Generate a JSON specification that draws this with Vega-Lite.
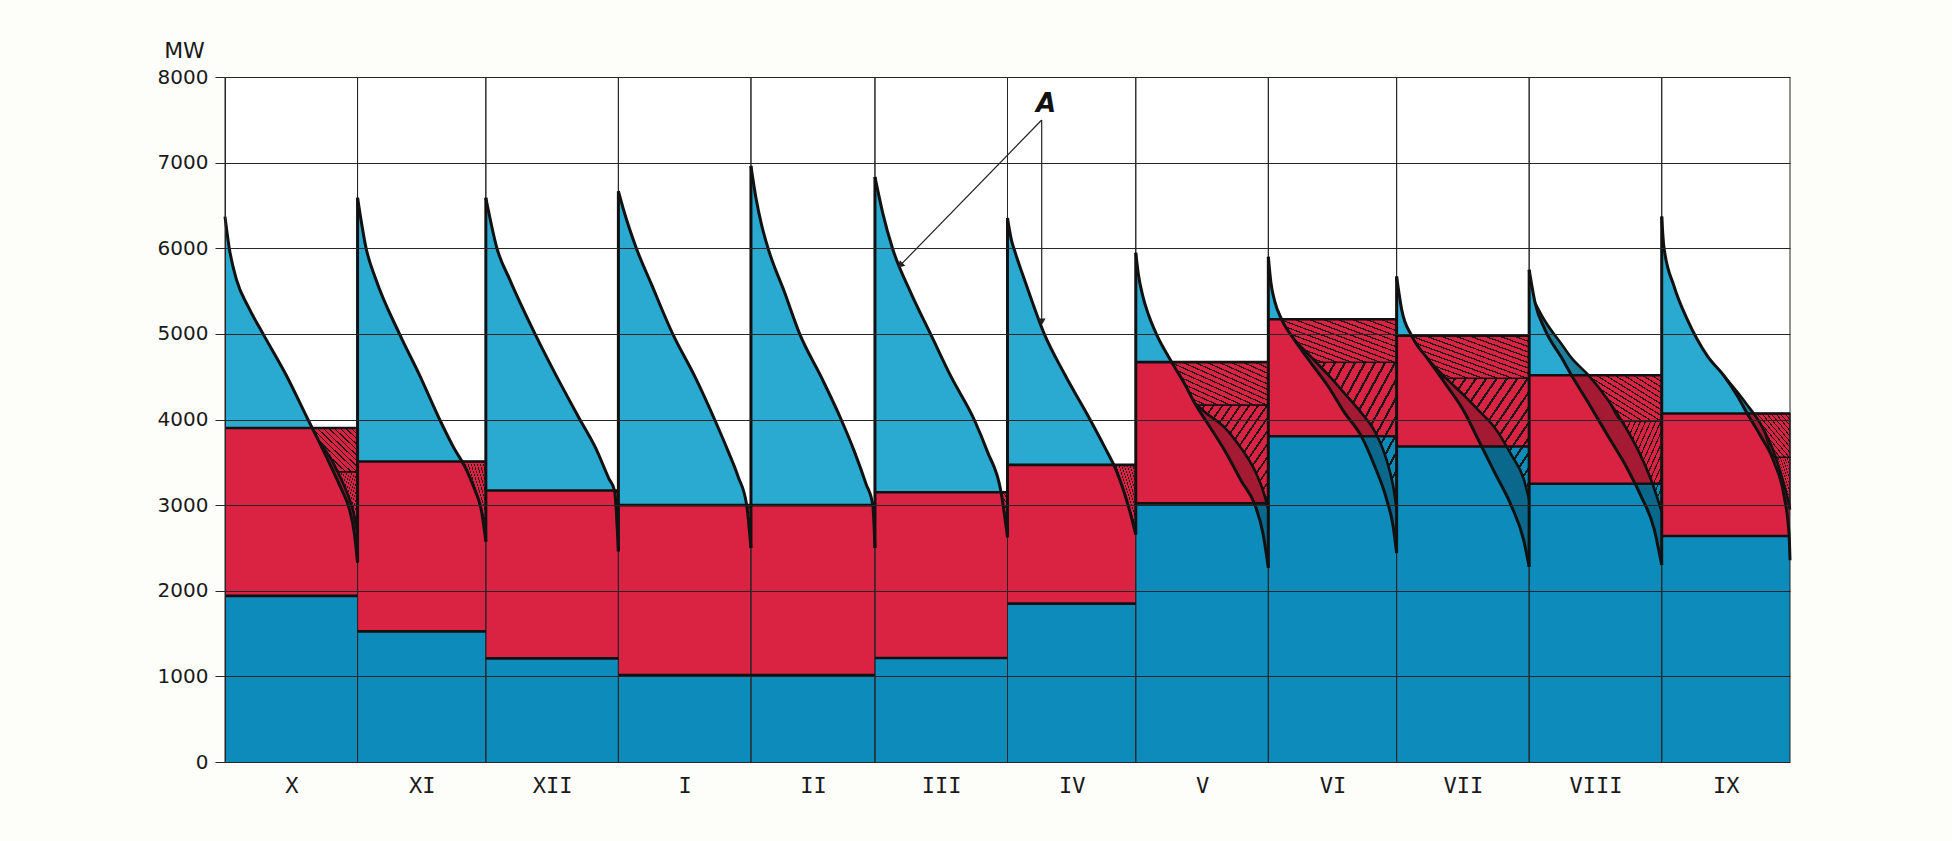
{
  "$schema": "https://vega.github.io/schema/vega-lite/v6.json",
  "background": "#fdfdf9",
  "autosize": {"type": "none"},
  "width": 1565,
  "height": 685,
  "padding": {"left": 225, "top": 77, "right": 162, "bottom": 79},
  "config": {
    "view": {"stroke": null, "fill": "#ffffff"},
    "font": "DejaVu Sans"
  },
  "datasets": {
    "months": [
      {"m": "X", "d0": 0, "d1": 31, "base": 1940, "top": 3900, "peak": 6370, "prevEnd": 6370},
      {"m": "XI", "d0": 31, "d1": 61, "base": 1525, "top": 3510, "peak": 6590, "prevEnd": 2330},
      {"m": "XII", "d0": 61, "d1": 92, "base": 1210, "top": 3170, "peak": 6590, "prevEnd": 2576},
      {"m": "I", "d0": 92, "d1": 123, "base": 1015, "top": 3000, "peak": 6667, "prevEnd": 2460},
      {"m": "II", "d0": 123, "d1": 152, "base": 1015, "top": 3000, "peak": 6960, "prevEnd": 2500},
      {"m": "III", "d0": 152, "d1": 183, "base": 1215, "top": 3150, "peak": 6833, "prevEnd": 2500},
      {"m": "IV", "d0": 183, "d1": 213, "base": 1850, "top": 3470, "peak": 6354, "prevEnd": 2625},
      {"m": "V", "d0": 213, "d1": 244, "base": 3020, "top": 4670, "peak": 5946, "prevEnd": 2658},
      {"m": "VI", "d0": 244, "d1": 274, "base": 3805, "top": 5170, "peak": 5900, "prevEnd": 2268},
      {"m": "VII", "d0": 274, "d1": 305, "base": 3685, "top": 4980, "peak": 5670, "prevEnd": 2440},
      {"m": "VIII", "d0": 305, "d1": 336, "base": 3250, "top": 4517, "peak": 5750, "prevEnd": 2280},
      {"m": "IX", "d0": 336, "d1": 366, "base": 2640, "top": 4070, "peak": 6370, "prevEnd": 2300}
    ],
    "curves": [
      {"m": "X", "d": 0, "c1": 6370},
      {"m": "X", "d": 1.0, "c1": 6000},
      {"m": "X", "d": 2.7, "c1": 5630},
      {"m": "X", "d": 5.4, "c1": 5320},
      {"m": "X", "d": 8.9, "c1": 5000},
      {"m": "X", "d": 14.3, "c1": 4520},
      {"m": "X", "d": 19.4, "c1": 4000},
      {"m": "X", "d": 22.1, "c1": 3730, "c2": 3730},
      {"m": "X", "d": 24.8, "c1": 3450, "c2": 3540},
      {"m": "X", "d": 27.1, "c1": 3200, "c2": 3310},
      {"m": "X", "d": 29.1, "c1": 2950, "c2": 3070},
      {"m": "X", "d": 30.2, "c1": 2690, "c2": 2880},
      {"m": "X", "d": 31, "c1": 2330, "c2": 2650},
      {"m": "XI", "d": 31, "c1": 6590},
      {"m": "XI", "d": 33.0, "c1": 6000},
      {"m": "XI", "d": 35.3, "c1": 5634},
      {"m": "XI", "d": 40.8, "c1": 5000},
      {"m": "XI", "d": 45.5, "c1": 4518},
      {"m": "XI", "d": 50.2, "c1": 4000},
      {"m": "XI", "d": 53.4, "c1": 3680},
      {"m": "XI", "d": 56.5, "c1": 3410},
      {"m": "XI", "d": 58.1, "c1": 3220},
      {"m": "XI", "d": 60.1, "c1": 2900},
      {"m": "XI", "d": 61, "c1": 2576},
      {"m": "XII", "d": 61, "c1": 6590},
      {"m": "XII", "d": 63.6, "c1": 6000},
      {"m": "XII", "d": 66.6, "c1": 5634},
      {"m": "XII", "d": 72.5, "c1": 5000},
      {"m": "XII", "d": 77.4, "c1": 4518},
      {"m": "XII", "d": 83.0, "c1": 4000},
      {"m": "XII", "d": 86.7, "c1": 3665},
      {"m": "XII", "d": 89.8, "c1": 3308},
      {"m": "XII", "d": 91.1, "c1": 3170},
      {"m": "XII", "d": 92, "c1": 2460},
      {"m": "I", "d": 92, "c1": 6667},
      {"m": "I", "d": 93.4, "c1": 6417},
      {"m": "I", "d": 96.2, "c1": 6000},
      {"m": "I", "d": 99.7, "c1": 5583},
      {"m": "I", "d": 104.7, "c1": 5000},
      {"m": "I", "d": 109.9, "c1": 4500},
      {"m": "I", "d": 114.5, "c1": 4000},
      {"m": "I", "d": 117.7, "c1": 3625},
      {"m": "I", "d": 120.0, "c1": 3333},
      {"m": "I", "d": 122.0, "c1": 3000},
      {"m": "I", "d": 123, "c1": 2500},
      {"m": "II", "d": 123, "c1": 6960},
      {"m": "II", "d": 124.2, "c1": 6580},
      {"m": "II", "d": 125.5, "c1": 6270},
      {"m": "II", "d": 127.0, "c1": 6000},
      {"m": "II", "d": 130.9, "c1": 5480},
      {"m": "II", "d": 134.4, "c1": 5000},
      {"m": "II", "d": 139.4, "c1": 4500},
      {"m": "II", "d": 144.1, "c1": 4000},
      {"m": "II", "d": 147.2, "c1": 3625},
      {"m": "II", "d": 149.9, "c1": 3250},
      {"m": "II", "d": 151.5, "c1": 3000},
      {"m": "II", "d": 152, "c1": 2500},
      {"m": "III", "d": 152, "c1": 6833},
      {"m": "III", "d": 153.8, "c1": 6417},
      {"m": "III", "d": 156.1, "c1": 6000},
      {"m": "III", "d": 160.4, "c1": 5480},
      {"m": "III", "d": 165.0, "c1": 5000},
      {"m": "III", "d": 169.8, "c1": 4500},
      {"m": "III", "d": 175.2, "c1": 4000},
      {"m": "III", "d": 178.3, "c1": 3625},
      {"m": "III", "d": 181.5, "c1": 3150},
      {"m": "III", "d": 183, "c1": 2625},
      {"m": "IV", "d": 183, "c1": 6354},
      {"m": "IV", "d": 183.9, "c1": 6100},
      {"m": "IV", "d": 184.8, "c1": 5950},
      {"m": "IV", "d": 187.1, "c1": 5615},
      {"m": "IV", "d": 191.6, "c1": 5000},
      {"m": "IV", "d": 196.4, "c1": 4525},
      {"m": "IV", "d": 202.3, "c1": 4000},
      {"m": "IV", "d": 205.7, "c1": 3680},
      {"m": "IV", "d": 208.3, "c1": 3420},
      {"m": "IV", "d": 211.2, "c1": 3000},
      {"m": "IV", "d": 213, "c1": 2658},
      {"m": "V", "d": 213, "c1": 5946},
      {"m": "V", "d": 213.6, "c1": 5700},
      {"m": "V", "d": 214.6, "c1": 5450},
      {"m": "V", "d": 216.0, "c1": 5220},
      {"m": "V", "d": 217.8, "c1": 5000},
      {"m": "V", "d": 221.4, "c1": 4670},
      {"m": "V", "d": 224.5, "c1": 4409},
      {"m": "V", "d": 226.8, "c1": 4190, "c2": 4190},
      {"m": "V", "d": 229.2, "c1": 4000, "c2": 4085},
      {"m": "V", "d": 233.9, "c1": 3630, "c2": 3900},
      {"m": "V", "d": 237.7, "c1": 3280, "c2": 3660},
      {"m": "V", "d": 240.9, "c1": 3000, "c2": 3397},
      {"m": "V", "d": 242.8, "c1": 2658, "c2": 3163},
      {"m": "V", "d": 244, "c1": 2268, "c2": 2950},
      {"m": "VI", "d": 244, "c1": 5900},
      {"m": "VI", "d": 244.6, "c1": 5600},
      {"m": "VI", "d": 245.5, "c1": 5380},
      {"m": "VI", "d": 247.1, "c1": 5170},
      {"m": "VI", "d": 250.1, "c1": 4930, "c2": 4930},
      {"m": "VI", "d": 254.0, "c1": 4658, "c2": 4730},
      {"m": "VI", "d": 258.0, "c1": 4385, "c2": 4520},
      {"m": "VI", "d": 261.9, "c1": 4074, "c2": 4300},
      {"m": "VI", "d": 265.8, "c1": 3800, "c2": 4074},
      {"m": "VI", "d": 268.9, "c1": 3451, "c2": 3860},
      {"m": "VI", "d": 271.7, "c1": 3062, "c2": 3520},
      {"m": "VI", "d": 273.2, "c1": 2751, "c2": 3220},
      {"m": "VI", "d": 274, "c1": 2440, "c2": 2950},
      {"m": "VII", "d": 274, "c1": 5670},
      {"m": "VII", "d": 275.2, "c1": 5280},
      {"m": "VII", "d": 277.5, "c1": 4980},
      {"m": "VII", "d": 281.4, "c1": 4700, "c2": 4700},
      {"m": "VII", "d": 285.3, "c1": 4424, "c2": 4495},
      {"m": "VII", "d": 290.0, "c1": 4074, "c2": 4270},
      {"m": "VII", "d": 293.1, "c1": 3763, "c2": 4110},
      {"m": "VII", "d": 297.0, "c1": 3373, "c2": 3900},
      {"m": "VII", "d": 300.9, "c1": 2984, "c2": 3580},
      {"m": "VII", "d": 303.7, "c1": 2595, "c2": 3310},
      {"m": "VII", "d": 305, "c1": 2280, "c2": 3062},
      {"m": "VIII", "d": 305, "c1": 5750},
      {"m": "VIII", "d": 306.4, "c1": 5360, "c2": 5360},
      {"m": "VIII", "d": 308.7, "c1": 5050, "c2": 5150},
      {"m": "VIII", "d": 312.6, "c1": 4720, "c2": 4880},
      {"m": "VIII", "d": 314.9, "c1": 4517, "c2": 4720},
      {"m": "VIII", "d": 318.8, "c1": 4198, "c2": 4520},
      {"m": "VIII", "d": 323.4, "c1": 3810, "c2": 4230},
      {"m": "VIII", "d": 328.0, "c1": 3422, "c2": 3870},
      {"m": "VIII", "d": 331.1, "c1": 3112, "c2": 3578},
      {"m": "VIII", "d": 334.2, "c1": 2725, "c2": 3200},
      {"m": "VIII", "d": 336, "c1": 2300, "c2": 2919},
      {"m": "IX", "d": 336, "c1": 6370},
      {"m": "IX", "d": 336.5, "c1": 6019},
      {"m": "IX", "d": 338.9, "c1": 5554},
      {"m": "IX", "d": 342.0, "c1": 5167},
      {"m": "IX", "d": 346.7, "c1": 4740},
      {"m": "IX", "d": 350.6, "c1": 4508, "c2": 4508},
      {"m": "IX", "d": 353.7, "c1": 4275, "c2": 4320},
      {"m": "IX", "d": 356.0, "c1": 4070, "c2": 4170},
      {"m": "IX", "d": 359.1, "c1": 3810, "c2": 3950},
      {"m": "IX", "d": 362.3, "c1": 3500, "c2": 3610},
      {"m": "IX", "d": 364.6, "c1": 3112, "c2": 3240},
      {"m": "IX", "d": 365.8, "c1": 2647, "c2": 3000},
      {"m": "IX", "d": 366, "c1": 2357, "c2": 2950}
    ],
    "hatch": [
      {"m": "X", "p": "u", "d": 20.4, "lo": 3900, "hi": 3900},
      {"m": "X", "p": "u", "d": 22.1, "lo": 3730, "hi": 3900},
      {"m": "X", "p": "u", "d": 24.8, "lo": 3540, "hi": 3900},
      {"m": "X", "p": "u", "d": 26.3, "lo": 3390, "hi": 3900},
      {"m": "X", "p": "u", "d": 31, "lo": 3390, "hi": 3900},
      {"m": "X", "p": "l", "d": 26.3, "lo": 3390, "hi": 3390},
      {"m": "X", "p": "l", "d": 27.1, "lo": 3310, "hi": 3390},
      {"m": "X", "p": "l", "d": 29.1, "lo": 3070, "hi": 3390},
      {"m": "X", "p": "l", "d": 30.2, "lo": 2880, "hi": 3390},
      {"m": "X", "p": "l", "d": 31, "lo": 2650, "hi": 3390},
      {"m": "XI", "p": "u", "d": 55.35, "lo": 3510, "hi": 3510},
      {"m": "XI", "p": "u", "d": 56.5, "lo": 3410, "hi": 3510},
      {"m": "XI", "p": "u", "d": 58.1, "lo": 3220, "hi": 3510},
      {"m": "XI", "p": "u", "d": 60.1, "lo": 2900, "hi": 3510},
      {"m": "XI", "p": "u", "d": 61, "lo": 2576, "hi": 3510},
      {"m": "XII", "p": "u", "d": 91.1, "lo": 3170, "hi": 3170},
      {"m": "XII", "p": "u", "d": 92, "lo": 2460, "hi": 3170},
      {"m": "I", "p": "u", "d": 122.0, "lo": 3000, "hi": 3000},
      {"m": "I", "p": "u", "d": 123, "lo": 2500, "hi": 3000},
      {"m": "II", "p": "u", "d": 151.5, "lo": 3000, "hi": 3000},
      {"m": "II", "p": "u", "d": 152, "lo": 2500, "hi": 3000},
      {"m": "III", "p": "u", "d": 181.5, "lo": 3150, "hi": 3150},
      {"m": "III", "p": "u", "d": 183, "lo": 2625, "hi": 3150},
      {"m": "IV", "p": "u", "d": 207.8, "lo": 3470, "hi": 3470},
      {"m": "IV", "p": "u", "d": 208.3, "lo": 3420, "hi": 3470},
      {"m": "IV", "p": "u", "d": 211.2, "lo": 3000, "hi": 3470},
      {"m": "IV", "p": "u", "d": 213, "lo": 2658, "hi": 3470},
      {"m": "V", "p": "u", "d": 221.4, "lo": 4670, "hi": 4670},
      {"m": "V", "p": "u", "d": 224.5, "lo": 4409, "hi": 4670},
      {"m": "V", "p": "u", "d": 226.8, "lo": 4190, "hi": 4670},
      {"m": "V", "p": "u", "d": 227.3, "lo": 4167, "hi": 4670},
      {"m": "V", "p": "u", "d": 244, "lo": 4167, "hi": 4670},
      {"m": "V", "p": "l", "d": 227.3, "lo": 4167, "hi": 4167},
      {"m": "V", "p": "l", "d": 229.2, "lo": 4085, "hi": 4167},
      {"m": "V", "p": "l", "d": 233.9, "lo": 3900, "hi": 4167},
      {"m": "V", "p": "l", "d": 237.7, "lo": 3660, "hi": 4167},
      {"m": "V", "p": "l", "d": 240.9, "lo": 3397, "hi": 4167},
      {"m": "V", "p": "l", "d": 242.8, "lo": 3163, "hi": 4167},
      {"m": "V", "p": "l", "d": 244, "lo": 2950, "hi": 4167},
      {"m": "VI", "p": "u", "d": 247.1, "lo": 5170, "hi": 5170},
      {"m": "VI", "p": "u", "d": 250.1, "lo": 4930, "hi": 5170},
      {"m": "VI", "p": "u", "d": 254.0, "lo": 4730, "hi": 5170},
      {"m": "VI", "p": "u", "d": 255.2, "lo": 4668, "hi": 5170},
      {"m": "VI", "p": "u", "d": 274, "lo": 4668, "hi": 5170},
      {"m": "VI", "p": "l", "d": 255.2, "lo": 4668, "hi": 4668},
      {"m": "VI", "p": "l", "d": 258.0, "lo": 4520, "hi": 4668},
      {"m": "VI", "p": "l", "d": 261.9, "lo": 4300, "hi": 4668},
      {"m": "VI", "p": "l", "d": 265.8, "lo": 4074, "hi": 4668},
      {"m": "VI", "p": "l", "d": 268.9, "lo": 3860, "hi": 4668},
      {"m": "VI", "p": "l", "d": 271.7, "lo": 3520, "hi": 4668},
      {"m": "VI", "p": "l", "d": 273.2, "lo": 3220, "hi": 4668},
      {"m": "VI", "p": "l", "d": 274, "lo": 2950, "hi": 4668},
      {"m": "VII", "p": "u", "d": 277.5, "lo": 4980, "hi": 4980},
      {"m": "VII", "p": "u", "d": 281.4, "lo": 4700, "hi": 4980},
      {"m": "VII", "p": "u", "d": 285.6, "lo": 4480, "hi": 4980},
      {"m": "VII", "p": "u", "d": 305, "lo": 4480, "hi": 4980},
      {"m": "VII", "p": "l", "d": 285.6, "lo": 4480, "hi": 4480},
      {"m": "VII", "p": "l", "d": 290.0, "lo": 4270, "hi": 4480},
      {"m": "VII", "p": "l", "d": 293.1, "lo": 4110, "hi": 4480},
      {"m": "VII", "p": "l", "d": 297.0, "lo": 3900, "hi": 4480},
      {"m": "VII", "p": "l", "d": 300.9, "lo": 3580, "hi": 4480},
      {"m": "VII", "p": "l", "d": 303.7, "lo": 3310, "hi": 4480},
      {"m": "VII", "p": "l", "d": 305, "lo": 3062, "hi": 4480},
      {"m": "VIII", "p": "u", "d": 318.8, "lo": 4517, "hi": 4517},
      {"m": "VIII", "p": "u", "d": 323.4, "lo": 4230, "hi": 4517},
      {"m": "VIII", "p": "u", "d": 326.5, "lo": 3985, "hi": 4517},
      {"m": "VIII", "p": "u", "d": 336, "lo": 3985, "hi": 4517},
      {"m": "VIII", "p": "l", "d": 326.5, "lo": 3985, "hi": 3985},
      {"m": "VIII", "p": "l", "d": 328.0, "lo": 3870, "hi": 3985},
      {"m": "VIII", "p": "l", "d": 331.1, "lo": 3578, "hi": 3985},
      {"m": "VIII", "p": "l", "d": 334.2, "lo": 3200, "hi": 3985},
      {"m": "VIII", "p": "l", "d": 336, "lo": 2919, "hi": 3985},
      {"m": "IX", "p": "u", "d": 357.4, "lo": 4070, "hi": 4070},
      {"m": "IX", "p": "u", "d": 359.1, "lo": 3950, "hi": 4070},
      {"m": "IX", "p": "u", "d": 362.6, "lo": 3557, "hi": 4070},
      {"m": "IX", "p": "u", "d": 366, "lo": 3557, "hi": 4070},
      {"m": "IX", "p": "l", "d": 362.6, "lo": 3557, "hi": 3557},
      {"m": "IX", "p": "l", "d": 364.6, "lo": 3240, "hi": 3557},
      {"m": "IX", "p": "l", "d": 365.8, "lo": 3000, "hi": 3557},
      {"m": "IX", "p": "l", "d": 366, "lo": 2950, "hi": 3557}
    ],
    "arrows": [
      {"t": "III", "x": 191.0, "y": 7498, "x2": 157.9, "y2": 5800},
      {"t": "IV", "x": 191.0, "y": 7498, "x2": 191.0, "y2": 5140}
    ],
    "notes": [
      {"x": 192.0, "y": 7680, "label": "A"}
    ]
  },
  "layer": [
    {
      "data": {"name": "curves"},
      "mark": {"type": "area", "color": "#2aa9d1", "opacity": 1, "interpolate": "monotone"},
      "encoding": {
        "x": {
          "field": "d", "type": "quantitative", "title": null,
          "scale": {"domain": [0, 366], "nice": false, "zero": false},
          "axis": {
            "values": [15.5, 46, 76.5, 107.5, 137.5, 167.5, 198, 228.5, 259, 289.5, 320.5, 351],
            "labelExpr": "['X','XI','XII','I','II','III','IV','V','VI','VII','VIII','IX'][indexof([15.5,46,76.5,107.5,137.5,167.5,198,228.5,259,289.5,320.5,351], datum.value)]",
            "grid": false, "ticks": false, "tickSize": 0, "domain": false,
            "labelFont": "DejaVu Sans Mono", "labelFontSize": 22, "labelColor": "#1a1a1a",
            "labelPadding": 13
          }
        },
        "y": {
          "field": "c1", "type": "quantitative", "title": "MW",
          "scale": {"domain": [0, 8000], "nice": false},
          "axis": {
            "values": [0, 1000, 2000, 3000, 4000, 5000, 6000, 7000, 8000],
            "format": "d",
            "grid": true, "gridColor": "#262626", "gridWidth": 1, "gridOpacity": 1,
            "zindex": 1,
            "domainColor": "#262626", "tickColor": "#262626", "tickSize": 10,
            "labelPadding": 7, "labelFont": "DejaVu Sans", "labelFontSize": 20, "labelColor": "#1a1a1a",
            "titleAngle": 0, "titleX": -41, "titleY": -27,
            "titleAlign": "center", "titleBaseline": "middle",
            "titleFont": "DejaVu Sans", "titleFontSize": 22, "titleFontWeight": "normal", "titleColor": "#1a1a1a"
          }
        },
        "y2": {"datum": 0},
        "detail": {"field": "m"}
      }
    },
    {
      "data": {"name": "curves"},
      "transform": [{"filter": "isValid(datum.c2)"}],
      "mark": {"type": "area", "color": "#2aa9d1", "opacity": 1, "interpolate": "monotone"},
      "encoding": {
        "x": {"field": "d", "type": "quantitative", "title": null},
        "y": {"field": "c2", "type": "quantitative", "title": "MW"},
        "y2": {"datum": 0},
        "detail": {"field": "m"}
      }
    },
    {
      "data": {"name": "months"},
      "mark": {"type": "rect", "color": "#0d8bba"},
      "encoding": {
        "x": {"field": "d0", "type": "quantitative", "title": null},
        "x2": {"field": "d1"},
        "y": {"field": "base", "type": "quantitative", "title": "MW"},
        "y2": {"datum": 0}
      }
    },
    {
      "data": {"name": "months"},
      "mark": {"type": "rect", "color": "#da2343"},
      "encoding": {
        "x": {"field": "d0", "type": "quantitative", "title": null},
        "x2": {"field": "d1"},
        "y": {"field": "top", "type": "quantitative", "title": "MW"},
        "y2": {"field": "base"}
      }
    },
    {
      "data": {"name": "curves"},
      "transform": [{"filter": "isValid(datum.c2)"}],
      "mark": {"type": "area", "color": "#000000", "opacity": 0.25, "interpolate": "monotone"},
      "encoding": {
        "x": {"field": "d", "type": "quantitative", "title": null},
        "y": {"field": "c1", "type": "quantitative", "title": "MW"},
        "y2": {"field": "c2"},
        "detail": {"field": "m"}
      }
    },
    {
      "data": {"name": "hatch"},
      "transform": [{"filter": "datum.p == 'u'"}],
      "mark": {
        "type": "area", "stroke": "#111111", "strokeWidth": 1.3, "interpolate": "monotone",
        "fill": {
          "gradient": "linear", "x1": 0, "y1": 1, "x2": 1, "y2": 0,
          "stops": [
            {"offset": 0, "color": "transparent"}, {"offset": 0.047, "color": "transparent"}, {"offset": 0.047, "color": "#1a1a1a"}, {"offset": 0.0625, "color": "#1a1a1a"},
            {"offset": 0.0625, "color": "transparent"}, {"offset": 0.1095, "color": "transparent"}, {"offset": 0.1095, "color": "#1a1a1a"}, {"offset": 0.125, "color": "#1a1a1a"},
            {"offset": 0.125, "color": "transparent"}, {"offset": 0.172, "color": "transparent"}, {"offset": 0.172, "color": "#1a1a1a"}, {"offset": 0.1875, "color": "#1a1a1a"},
            {"offset": 0.1875, "color": "transparent"}, {"offset": 0.2345, "color": "transparent"}, {"offset": 0.2345, "color": "#1a1a1a"}, {"offset": 0.25, "color": "#1a1a1a"},
            {"offset": 0.25, "color": "transparent"}, {"offset": 0.297, "color": "transparent"}, {"offset": 0.297, "color": "#1a1a1a"}, {"offset": 0.3125, "color": "#1a1a1a"},
            {"offset": 0.3125, "color": "transparent"}, {"offset": 0.3595, "color": "transparent"}, {"offset": 0.3595, "color": "#1a1a1a"}, {"offset": 0.375, "color": "#1a1a1a"},
            {"offset": 0.375, "color": "transparent"}, {"offset": 0.422, "color": "transparent"}, {"offset": 0.422, "color": "#1a1a1a"}, {"offset": 0.4375, "color": "#1a1a1a"},
            {"offset": 0.4375, "color": "transparent"}, {"offset": 0.4845, "color": "transparent"}, {"offset": 0.4845, "color": "#1a1a1a"}, {"offset": 0.5, "color": "#1a1a1a"},
            {"offset": 0.5, "color": "transparent"}, {"offset": 0.547, "color": "transparent"}, {"offset": 0.547, "color": "#1a1a1a"}, {"offset": 0.5625, "color": "#1a1a1a"},
            {"offset": 0.5625, "color": "transparent"}, {"offset": 0.6095, "color": "transparent"}, {"offset": 0.6095, "color": "#1a1a1a"}, {"offset": 0.625, "color": "#1a1a1a"},
            {"offset": 0.625, "color": "transparent"}, {"offset": 0.672, "color": "transparent"}, {"offset": 0.672, "color": "#1a1a1a"}, {"offset": 0.6875, "color": "#1a1a1a"},
            {"offset": 0.6875, "color": "transparent"}, {"offset": 0.7345, "color": "transparent"}, {"offset": 0.7345, "color": "#1a1a1a"}, {"offset": 0.75, "color": "#1a1a1a"},
            {"offset": 0.75, "color": "transparent"}, {"offset": 0.797, "color": "transparent"}, {"offset": 0.797, "color": "#1a1a1a"}, {"offset": 0.8125, "color": "#1a1a1a"},
            {"offset": 0.8125, "color": "transparent"}, {"offset": 0.8595, "color": "transparent"}, {"offset": 0.8595, "color": "#1a1a1a"}, {"offset": 0.875, "color": "#1a1a1a"},
            {"offset": 0.875, "color": "transparent"}, {"offset": 0.922, "color": "transparent"}, {"offset": 0.922, "color": "#1a1a1a"}, {"offset": 0.9375, "color": "#1a1a1a"},
            {"offset": 0.9375, "color": "transparent"}, {"offset": 0.9845, "color": "transparent"}, {"offset": 0.9845, "color": "#1a1a1a"}, {"offset": 1, "color": "#1a1a1a"}
          ]
        }
      },
      "encoding": {
        "x": {"field": "d", "type": "quantitative", "title": null},
        "y": {"field": "lo", "type": "quantitative", "title": "MW"},
        "y2": {"field": "hi"},
        "detail": {"field": "m"}
      }
    },
    {
      "data": {"name": "hatch"},
      "transform": [{"filter": "datum.p == 'l'"}],
      "mark": {
        "type": "area", "stroke": "#111111", "strokeWidth": 1.3, "interpolate": "monotone",
        "fill": {
          "gradient": "linear", "x1": 0, "y1": 0, "x2": 1, "y2": 1,
          "stops": [
            {"offset": 0, "color": "transparent"}, {"offset": 0.047, "color": "transparent"}, {"offset": 0.047, "color": "#1a1a1a"}, {"offset": 0.0625, "color": "#1a1a1a"},
            {"offset": 0.0625, "color": "transparent"}, {"offset": 0.1095, "color": "transparent"}, {"offset": 0.1095, "color": "#1a1a1a"}, {"offset": 0.125, "color": "#1a1a1a"},
            {"offset": 0.125, "color": "transparent"}, {"offset": 0.172, "color": "transparent"}, {"offset": 0.172, "color": "#1a1a1a"}, {"offset": 0.1875, "color": "#1a1a1a"},
            {"offset": 0.1875, "color": "transparent"}, {"offset": 0.2345, "color": "transparent"}, {"offset": 0.2345, "color": "#1a1a1a"}, {"offset": 0.25, "color": "#1a1a1a"},
            {"offset": 0.25, "color": "transparent"}, {"offset": 0.297, "color": "transparent"}, {"offset": 0.297, "color": "#1a1a1a"}, {"offset": 0.3125, "color": "#1a1a1a"},
            {"offset": 0.3125, "color": "transparent"}, {"offset": 0.3595, "color": "transparent"}, {"offset": 0.3595, "color": "#1a1a1a"}, {"offset": 0.375, "color": "#1a1a1a"},
            {"offset": 0.375, "color": "transparent"}, {"offset": 0.422, "color": "transparent"}, {"offset": 0.422, "color": "#1a1a1a"}, {"offset": 0.4375, "color": "#1a1a1a"},
            {"offset": 0.4375, "color": "transparent"}, {"offset": 0.4845, "color": "transparent"}, {"offset": 0.4845, "color": "#1a1a1a"}, {"offset": 0.5, "color": "#1a1a1a"},
            {"offset": 0.5, "color": "transparent"}, {"offset": 0.547, "color": "transparent"}, {"offset": 0.547, "color": "#1a1a1a"}, {"offset": 0.5625, "color": "#1a1a1a"},
            {"offset": 0.5625, "color": "transparent"}, {"offset": 0.6095, "color": "transparent"}, {"offset": 0.6095, "color": "#1a1a1a"}, {"offset": 0.625, "color": "#1a1a1a"},
            {"offset": 0.625, "color": "transparent"}, {"offset": 0.672, "color": "transparent"}, {"offset": 0.672, "color": "#1a1a1a"}, {"offset": 0.6875, "color": "#1a1a1a"},
            {"offset": 0.6875, "color": "transparent"}, {"offset": 0.7345, "color": "transparent"}, {"offset": 0.7345, "color": "#1a1a1a"}, {"offset": 0.75, "color": "#1a1a1a"},
            {"offset": 0.75, "color": "transparent"}, {"offset": 0.797, "color": "transparent"}, {"offset": 0.797, "color": "#1a1a1a"}, {"offset": 0.8125, "color": "#1a1a1a"},
            {"offset": 0.8125, "color": "transparent"}, {"offset": 0.8595, "color": "transparent"}, {"offset": 0.8595, "color": "#1a1a1a"}, {"offset": 0.875, "color": "#1a1a1a"},
            {"offset": 0.875, "color": "transparent"}, {"offset": 0.922, "color": "transparent"}, {"offset": 0.922, "color": "#1a1a1a"}, {"offset": 0.9375, "color": "#1a1a1a"},
            {"offset": 0.9375, "color": "transparent"}, {"offset": 0.9845, "color": "transparent"}, {"offset": 0.9845, "color": "#1a1a1a"}, {"offset": 1, "color": "#1a1a1a"}
          ]
        }
      },
      "encoding": {
        "x": {"field": "d", "type": "quantitative", "title": null},
        "y": {"field": "lo", "type": "quantitative", "title": "MW"},
        "y2": {"field": "hi"},
        "detail": {"field": "m"}
      }
    },
    {
      "data": {"name": "months"},
      "mark": {"type": "rule", "color": "#262626", "strokeWidth": 1},
      "encoding": {"x": {"field": "d0", "type": "quantitative", "title": null}}
    },
    {
      "data": {"name": "months"},
      "mark": {"type": "rule", "color": "#262626", "strokeWidth": 1},
      "encoding": {"x": {"field": "d1", "type": "quantitative", "title": null}}
    },
    {
      "data": {"name": "months"},
      "mark": {"type": "rule", "color": "#111111", "strokeWidth": 2.6},
      "encoding": {
        "x": {"field": "d0", "type": "quantitative", "title": null},
        "x2": {"field": "d1"},
        "y": {"field": "top", "type": "quantitative", "title": "MW"}
      }
    },
    {
      "data": {"name": "months"},
      "mark": {"type": "rule", "color": "#111111", "strokeWidth": 2.6},
      "encoding": {
        "x": {"field": "d0", "type": "quantitative", "title": null},
        "x2": {"field": "d1"},
        "y": {"field": "base", "type": "quantitative", "title": "MW"}
      }
    },
    {
      "data": {"name": "months"},
      "mark": {"type": "rule", "color": "#111111", "strokeWidth": 3},
      "encoding": {
        "x": {"field": "d0", "type": "quantitative", "title": null},
        "y": {"field": "peak", "type": "quantitative", "title": "MW"},
        "y2": {"field": "prevEnd"}
      }
    },
    {
      "data": {"name": "curves"},
      "transform": [{"filter": "isValid(datum.c2)"}],
      "mark": {"type": "line", "color": "#111111", "strokeWidth": 2.6, "interpolate": "monotone"},
      "encoding": {
        "x": {"field": "d", "type": "quantitative", "title": null},
        "y": {"field": "c2", "type": "quantitative", "title": "MW"},
        "detail": {"field": "m"}
      }
    },
    {
      "data": {"name": "curves"},
      "mark": {"type": "line", "color": "#111111", "strokeWidth": 3, "interpolate": "monotone"},
      "encoding": {
        "x": {"field": "d", "type": "quantitative", "title": null},
        "y": {"field": "c1", "type": "quantitative", "title": "MW"},
        "detail": {"field": "m"}
      }
    },
    {
      "data": {"name": "arrows"},
      "mark": {"type": "rule", "color": "#222222", "strokeWidth": 1.2},
      "encoding": {
        "x": {"field": "x", "type": "quantitative", "title": null},
        "y": {"field": "y", "type": "quantitative", "title": "MW"},
        "x2": {"field": "x2"},
        "y2": {"field": "y2"}
      }
    },
    {
      "data": {"name": "arrows"},
      "transform": [{"filter": "datum.t == 'III'"}],
      "mark": {"type": "point", "shape": "triangle-up", "filled": true, "color": "#222222", "size": 60, "angle": 225, "opacity": 1},
      "encoding": {
        "x": {"field": "x2", "type": "quantitative", "title": null},
        "y": {"field": "y2", "type": "quantitative", "title": "MW"}
      }
    },
    {
      "data": {"name": "arrows"},
      "transform": [{"filter": "datum.t == 'IV'"}],
      "mark": {"type": "point", "shape": "triangle-up", "filled": true, "color": "#222222", "size": 60, "angle": 180, "opacity": 1},
      "encoding": {
        "x": {"field": "x2", "type": "quantitative", "title": null},
        "y": {"field": "y2", "type": "quantitative", "title": "MW"}
      }
    },
    {
      "data": {"name": "notes"},
      "mark": {"type": "text", "font": "DejaVu Sans", "fontSize": 26, "fontWeight": "bold", "fontStyle": "italic", "color": "#111111", "baseline": "middle", "align": "center"},
      "encoding": {
        "x": {"field": "x", "type": "quantitative", "title": null},
        "y": {"field": "y", "type": "quantitative", "title": "MW"},
        "text": {"field": "label"}
      }
    }
  ]
}
